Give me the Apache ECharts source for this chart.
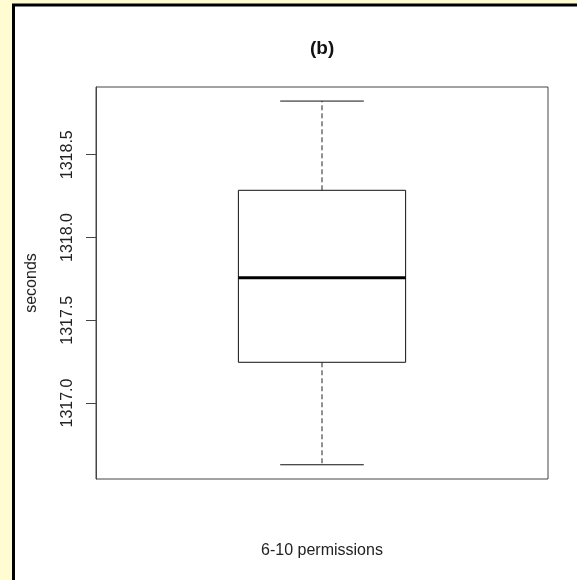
<!DOCTYPE html>
<html>
<head>
<meta charset="utf-8">
<script src="https://cdn.jsdelivr.net/npm/echarts@6/dist/echarts.min.js"></script>
<style>
html,body{margin:0;padding:0;background:#FFFCD2;}
#chart{width:577px;height:580px;}
</style>
</head>
<body>
<div id="chart"></div>
<script>
const categories = ['6-10 permissions'];
const lowerWhisker = [1316.627];
const q1 = [1317.246];
const median = [1317.757];
const q3 = [1318.285];
const upperWhisker = [1318.824];
const yTicks = [1317.0, 1317.5, 1318.0, 1318.5];
const titleText = '(b)';
const yName = 'seconds';

const data = categories.map((c, i) => [i, lowerWhisker[i], q1[i], median[i], q3[i], upperWhisker[i]]);

const chart = echarts.init(document.getElementById('chart'), null, {renderer: 'canvas'});
const font = 'Liberation Sans, Arial, sans-serif';

chart.setOption({
  backgroundColor: '#FFFCD2',
  animation: false,
  graphic: [{
    type: 'rect', z: -10, silent: true,
    shape: {x: 13.5, y: 5, width: 620, height: 620},
    style: {fill: '#ffffff', stroke: '#000000', lineWidth: 3}
  }],
  title: {
    text: titleText, left: 305, top: 34,
    textStyle: {fontFamily: font, fontSize: 19, fontWeight: 'bold', color: '#111'}
  },
  grid: {
    left: 96, top: 87, right: 29, bottom: 101,
    show: true, borderColor: '#444', borderWidth: 1, backgroundColor: 'transparent'
  },
  xAxis: {
    type: 'category', data: categories, boundaryGap: true,
    name: categories[0], nameLocation: 'middle', nameGap: 64,
    nameTextStyle: {fontFamily: font, fontSize: 16, color: '#222'},
    axisLine: {show: false}, axisTick: {show: false}, axisLabel: {show: false},
    splitLine: {show: false}
  },
  yAxis: {
    type: 'value', min: 1316.541, max: 1318.909,
    name: yName, nameLocation: 'middle', nameGap: 56, nameRotate: 90,
    nameTextStyle: {fontFamily: font, fontSize: 16, color: '#222'},
    axisLine: {show: true, lineStyle: {color: '#444', width: 1}},
    axisTick: {show: true, length: 10, lineStyle: {color: '#444'}, customValues: yTicks},
    axisLabel: {
      show: true, rotate: 90, margin: 20, customValues: yTicks,
      fontFamily: font, fontSize: 16, color: '#222',
      formatter: v => Number(v).toFixed(1)
    },
    splitLine: {show: false}
  },
  series: [{
    type: 'custom',
    data: data,
    encode: {x: 0, y: [1, 2, 3, 4, 5]},
    renderItem: function (params, api) {
      const x = api.value(0);
      const pLow = api.coord([x, api.value(1)]);
      const pQ1 = api.coord([x, api.value(2)]);
      const pMed = api.coord([x, api.value(3)]);
      const pQ3 = api.coord([x, api.value(4)]);
      const pHigh = api.coord([x, api.value(5)]);
      const band = api.size([1, 0])[0];
      const halfBox = band * 0.185;
      const halfCap = halfBox / 2;
      const cx = pMed[0];
      const col = '#111';
      return {
        type: 'group',
        children: [
          {type: 'line', shape: {x1: cx, y1: pQ3[1], x2: cx, y2: pHigh[1]},
           style: {stroke: '#222', lineWidth: 1, lineDash: [5, 3]}},
          {type: 'line', shape: {x1: cx, y1: pQ1[1], x2: cx, y2: pLow[1]},
           style: {stroke: '#222', lineWidth: 1, lineDash: [5, 3]}},
          {type: 'line', shape: {x1: cx - halfCap, y1: pHigh[1], x2: cx + halfCap, y2: pHigh[1]},
           style: {stroke: col, lineWidth: 1}},
          {type: 'line', shape: {x1: cx - halfCap, y1: pLow[1], x2: cx + halfCap, y2: pLow[1]},
           style: {stroke: col, lineWidth: 1}},
          {type: 'rect', shape: {x: cx - halfBox, y: pQ3[1], width: halfBox * 2, height: pQ1[1] - pQ3[1]},
           style: {fill: '#ffffff', stroke: col, lineWidth: 1}},
          {type: 'line', shape: {x1: cx - halfBox, y1: pMed[1], x2: cx + halfBox, y2: pMed[1]},
           style: {stroke: '#000', lineWidth: 3}}
        ]
      };
    }
  }]
});
</script>
</body>
</html>
